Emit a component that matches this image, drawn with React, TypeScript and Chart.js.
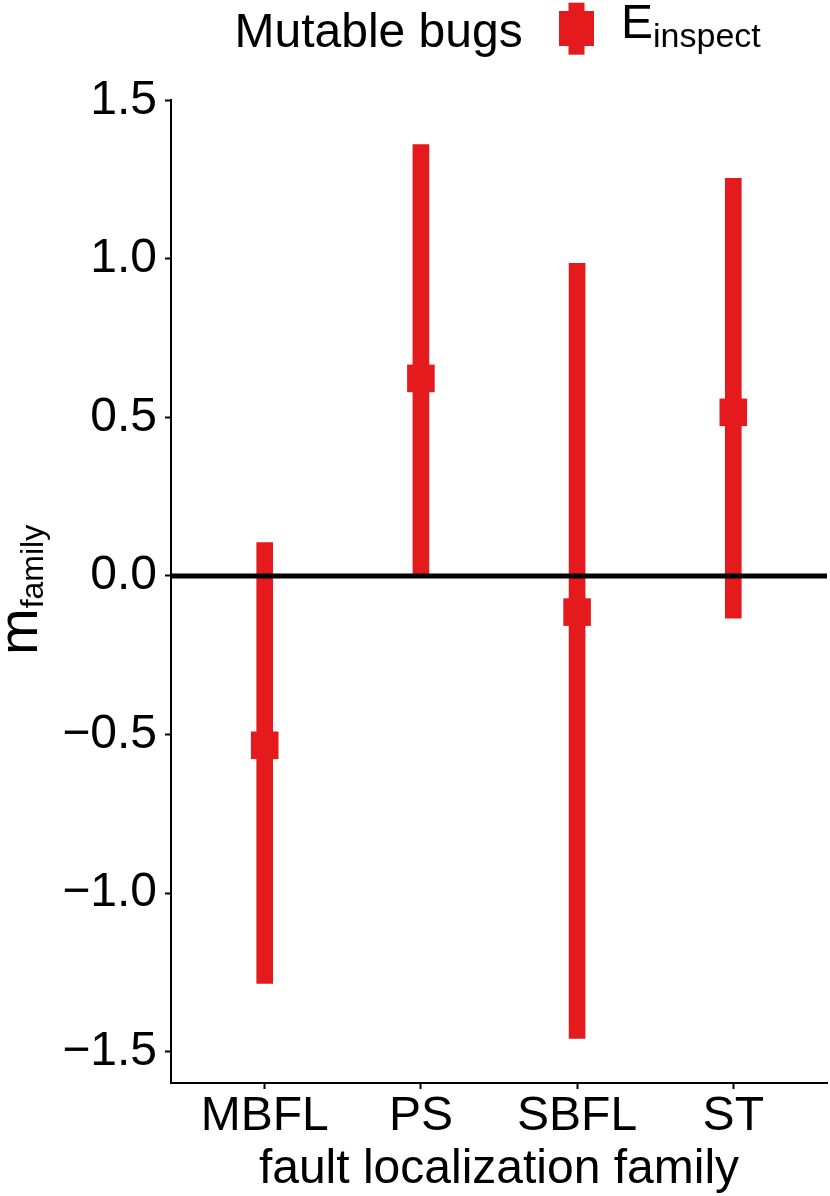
import React, { useEffect, useRef } from "react";
import { Chart, registerables } from "chart.js";

Chart.register(...registerables);

// ---- data ----
const categories = ["MBFL", "PS", "SBFL", "ST"];
const estimates = [-0.534, 0.623, -0.114, 0.516];
const lowerBounds = [-1.285, 0.0, -1.458, -0.133];
const upperBounds = [0.105, 1.36, 0.986, 1.254];
const yTickValues = [-1.5, -1.0, -0.5, 0, 0.5, 1.0, 1.5];

const legendTitle = "Mutable bugs";
const legendLabelMain = "E";
const legendLabelSub = "inspect";
const xTitle = "fault localization family";
const yTitleMain = "m";
const yTitleSub = "family";

const RED = "#E41A1C";
const FONT = '"Liberation Sans", Arial, Helvetica, sans-serif';

// ggplot-like 5% expansion of the continuous range
const dataMin = Math.min(...lowerBounds, ...estimates);
const dataMax = Math.max(...upperBounds, ...estimates);
const span = dataMax - dataMin;
const yMin = dataMin - 0.05 * span;
const yMax = dataMax + 0.05 * span;

const fmt = (v: number) => {
  if (Math.abs(v) < 1e-9) return "0.0";
  return v < 0 ? "\u2212" + Math.abs(v).toFixed(1) : v.toFixed(1);
};

const decorations = {
  id: "decorations",
  afterDatasetsDraw(chart: any) {
    const { ctx, chartArea, scales } = chart;
    const y0 = scales.y.getPixelForValue(0);
    ctx.save();
    ctx.strokeStyle = "#000";
    ctx.lineWidth = 5;
    ctx.beginPath();
    ctx.moveTo(chartArea.left, y0);
    ctx.lineTo(chartArea.right, y0);
    ctx.stroke();
    ctx.restore();
  },
  afterDraw(chart: any) {
    const { ctx, chartArea } = chart;
    ctx.save();
    ctx.fillStyle = "#000";
    ctx.textBaseline = "alphabetic";

    // legend
    ctx.textAlign = "left";
    ctx.font = `48px ${FONT}`;
    ctx.fillText(legendTitle, 234.5, 46.7);
    ctx.fillStyle = RED;
    ctx.fillRect(559, 11, 35, 35);
    ctx.fillRect(568.5, 2.7, 16, 52);
    ctx.fillStyle = "#000";
    ctx.font = `48px ${FONT}`;
    ctx.fillText(legendLabelMain, 621, 37.7);
    const ew = ctx.measureText(legendLabelMain).width;
    ctx.font = `34px ${FONT}`;
    ctx.fillText(legendLabelSub, 621 + ew, 46.7);

    // x title
    ctx.textAlign = "center";
    ctx.font = `48px ${FONT}`;
    ctx.fillText(xTitle, (chartArea.left + chartArea.right) / 2, 1183);

    // y title (rotated)
    ctx.save();
    ctx.translate(37, 655);
    ctx.rotate(-Math.PI / 2);
    ctx.textAlign = "left";
    ctx.font = `56px ${FONT}`;
    ctx.fillText(yTitleMain, 0, 0);
    const mw = ctx.measureText(yTitleMain).width;
    ctx.font = `32px ${FONT}`;
    ctx.fillText(yTitleSub, mw, 6);
    ctx.restore();

    ctx.restore();
  },
};

export default function App() {
  const ref = useRef<HTMLCanvasElement | null>(null);

  useEffect(() => {
    if (!ref.current) return;
    const chart = new Chart(ref.current, {
      type: "bar",
      data: {
        datasets: [
          {
            type: "scatter",
            label: "estimate",
            data: categories.map((_, i) => ({ x: i + 1, y: estimates[i] })),
            pointStyle: "rect",
            pointRadius: 19.5,
            pointHoverRadius: 19.5,
            backgroundColor: RED,
            borderWidth: 0,
            clip: false,
            order: 0,
          } as any,
          {
            type: "bar",
            label: "interval",
            data: categories.map((_, i) => ({ x: i + 1, y: [lowerBounds[i], upperBounds[i]] })),
            backgroundColor: RED,
            borderWidth: 0,
            barThickness: 16,
            grouped: false,
            order: 1,
          } as any,
        ],
      },
      options: {
        responsive: false,
        animation: false,
        devicePixelRatio: 1,
        layout: { autoPadding: false, padding: { top: 100, right: 3, left: 0, bottom: 0 } },
        plugins: { legend: { display: false }, tooltip: { enabled: false } },
        scales: {
          x: {
            type: "linear",
            min: 0.4,
            max: 4.6,
            offset: false,
            afterBuildTicks: (s: any) => {
              s.ticks = categories.map((_, i) => ({ value: i + 1 }));
            },
            afterFit: (s: any) => {
              s.height = 113;
              s.paddingLeft = 0;
              s.paddingRight = 0;
            },
            ticks: {
              callback: (v: any) => categories[Math.round(Number(v)) - 1] ?? "",
              font: { family: FONT, size: 48, lineHeight: 1 },
              color: "#000",
              padding: 4,
              maxRotation: 0,
              autoSkip: false,
            },
            grid: {
              offset: false,
              drawOnChartArea: false,
              drawTicks: true,
              tickLength: 6,
              tickColor: "#000",
              tickWidth: 2,
            },
            border: { display: true, color: "#000", width: 2 },
          } as any,
          y: {
            type: "linear",
            min: yMin,
            max: yMax,
            afterBuildTicks: (s: any) => {
              s.ticks = yTickValues.map((v) => ({ value: v }));
            },
            afterFit: (s: any) => {
              s.width = 171;
              s.paddingTop = 0;
              s.paddingBottom = 0;
            },
            ticks: {
              callback: (v: any) => fmt(Number(v)),
              font: { family: FONT, size: 48 },
              color: "#000",
              padding: 8,
            },
            grid: {
              drawOnChartArea: false,
              drawTicks: true,
              tickLength: 6,
              tickColor: "#000",
              tickWidth: 2,
            },
            border: { display: true, color: "#000", width: 2 },
          } as any,
        },
      },
      plugins: [decorations],
    });
    return () => chart.destroy();
  }, []);

  return (
    <div style={{ position: "absolute", left: 0, top: 0, width: 830, height: 1196, background: "#fff" }}>
      <canvas ref={ref} width={830} height={1196} style={{ display: "block" }} />
    </div>
  );
}
